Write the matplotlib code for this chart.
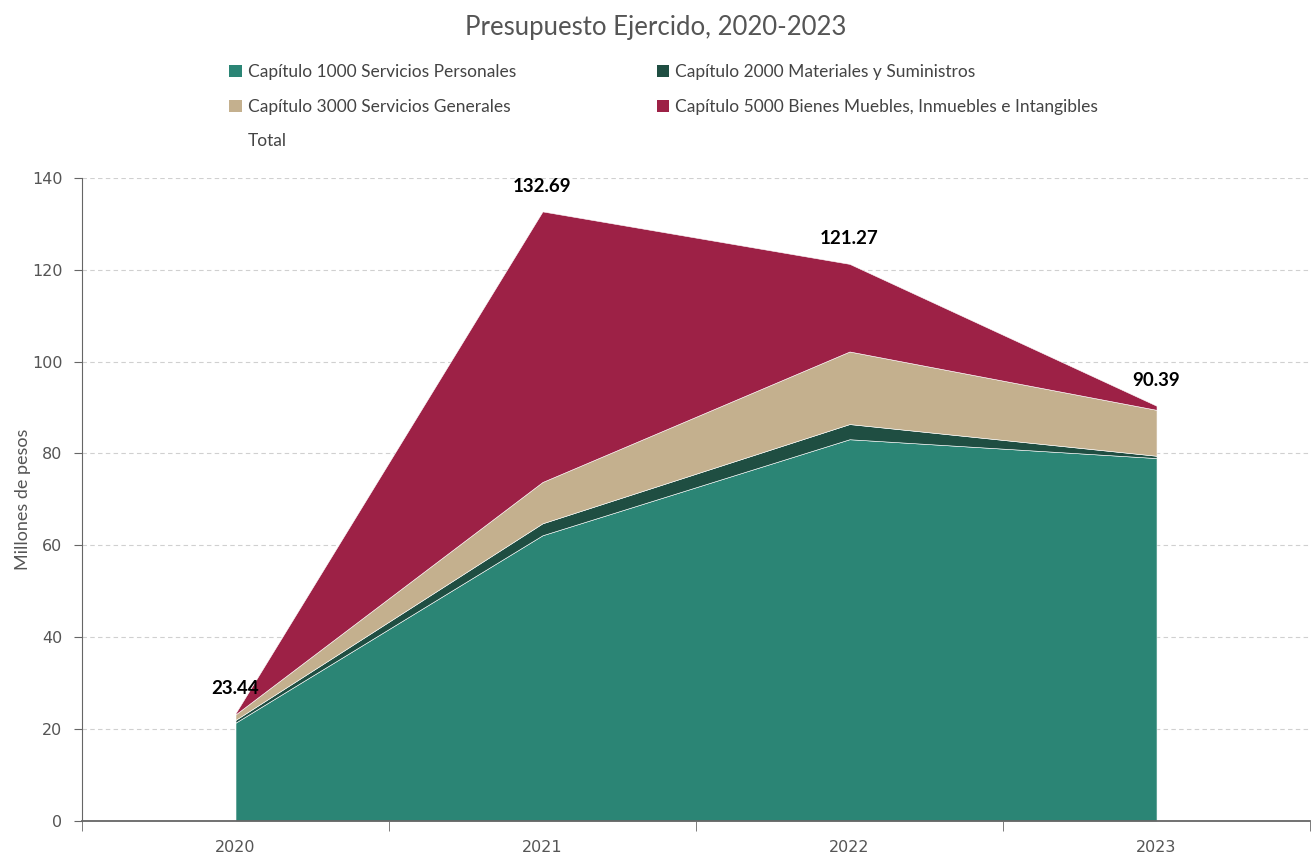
import matplotlib
matplotlib.use("Agg")
import matplotlib.pyplot as plt
from matplotlib.patches import Patch
import numpy as np

years = ["2020", "2021", "2022", "2023"]
cap1000 = [21.4, 62.2, 83.1, 79.0]
cap2000 = [0.6, 2.6, 3.3, 0.5]
cap3000 = [1.2, 9.0, 15.8, 10.0]
cap5000 = [0.24, 58.89, 19.07, 0.89]
totals = [23.44, 132.69, 121.27, 90.39]

series_names = ["Capítulo 1000 Servicios Personales",
                "Capítulo 2000 Materiales y Suministros",
                "Capítulo 3000 Servicios Generales",
                "Capítulo 5000 Bienes Muebles, Inmuebles e Intangibles"]
colors = ["#2b8575", "#1f4e42", "#c4b08e", "#9d2146"]

fig = plt.figure(figsize=(13.12, 8.57), dpi=100)
ax = fig.add_axes([0.0625, 0.042, 0.936, 0.7505])

x = np.arange(len(years))
ax.stackplot(x, cap1000, cap2000, cap3000, cap5000, colors=colors,
             edgecolor="white", linewidth=0.4, zorder=2)

for xi, t in zip(x, totals):
    ax.annotate(f"{t:.2f}", (xi, t), xytext=(0, 18), textcoords="offset points",
                ha="center", va="center", fontsize=13.5, fontweight="bold",
                family=["Lato", "DejaVu Sans"], color="black", zorder=5)

ax.set_xlim(-0.5, 3.5)
ax.set_ylim(0, 140)
ax.set_yticks(range(0, 141, 20))
ax.set_xticks(x)
ax.set_xticklabels(years)
ax.set_xticks(np.arange(-0.5, 3.6, 1), minor=True)
ax.tick_params(axis="x", which="major", length=0, pad=14, labelsize=11.5, labelcolor="#555555")
ax.tick_params(axis="x", which="minor", length=7, color="#666666", direction="out")
ax.tick_params(axis="y", length=6, color="#666666", labelsize=11.5, labelcolor="#555555", pad=8)
ax.grid(axis="y", linestyle=(0, (4, 3)), color="#d0d0d0", linewidth=0.8, zorder=0)
ax.set_axisbelow(True)
for s in ["top", "right"]:
    ax.spines[s].set_visible(False)
ax.spines["left"].set_color("#666666")
ax.spines["bottom"].set_color("#666666")
ax.spines["bottom"].set_linewidth(1.3)

ax.set_ylabel("Millones de pesos", fontsize=13, color="#555555",
              family=["Lato", "DejaVu Sans"], labelpad=1)

fig.text(0.5, 0.968, "Presupuesto Ejercido, 2020-2023", ha="center", va="center",
         fontsize=18.5, color="#555555", family=["Lato", "DejaVu Sans"])

handles = [Patch(facecolor=c, edgecolor="none") for c in colors]
labels = list(series_names)
handles = [handles[0], handles[2], Patch(facecolor="none", edgecolor="none"),
           handles[1], handles[3]]
labels = [labels[0], labels[2], "Total", labels[1], labels[3]]
leg = fig.legend(handles, labels, ncol=2, loc="upper left",
                 bbox_to_anchor=(0.163, 0.943), frameon=False,
                 prop={"family": ["Lato", "DejaVu Sans"], "size": 12.5},
                 handlelength=0.7, handleheight=0.7, handletextpad=0.35,
                 columnspacing=8.1, labelspacing=1.05)
for t in leg.get_texts():
    t.set_color("#444444")

fig.savefig("out.png", dpi=100)
